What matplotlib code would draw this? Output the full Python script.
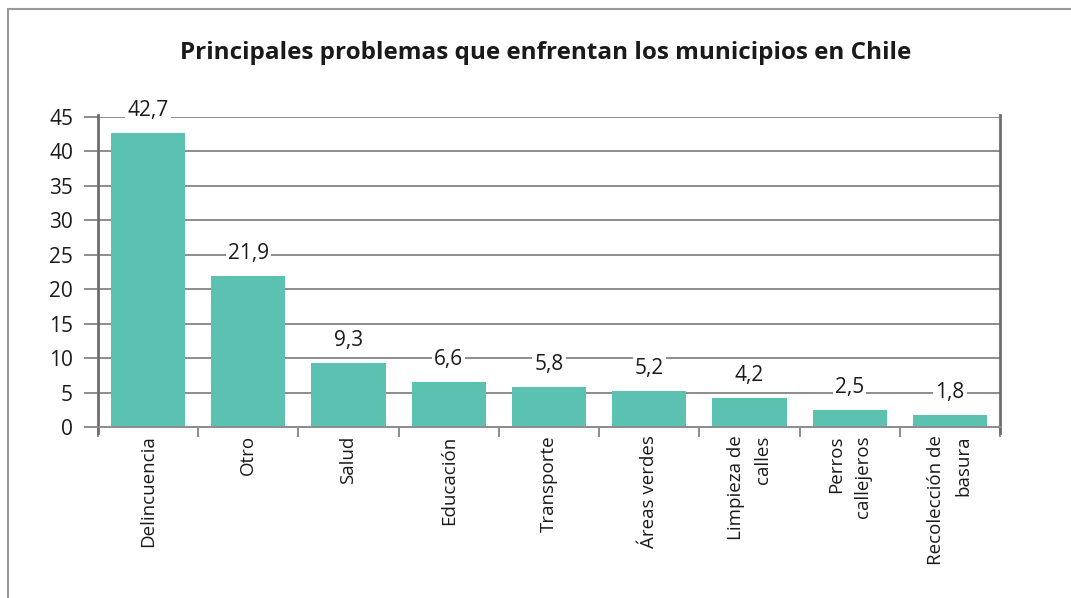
import matplotlib.pyplot as plt
from matplotlib.patches import Rectangle

categorias = ["Delincuencia", "Otro", "Salud", "Educación", "Transporte",
              "Áreas verdes", "Limpieza de\ncalles", "Perros\ncallejeros",
              "Recolección de\nbasura"]
valores = [42.7, 21.9, 9.3, 6.6, 5.8, 5.2, 4.2, 2.5, 1.8]
etiquetas = ["42,7", "21,9", "9,3", "6,6", "5,8", "5,2", "4,2", "2,5", "1,8"]
yticks = [0, 5, 10, 15, 20, 25, 30, 35, 40, 45]

plt.rcParams["font.family"] = ["Open Sans", "DejaVu Sans"]

fig = plt.figure(figsize=(10.71, 5.98), dpi=100)
ax = fig.add_axes([98 / 1071, 1 - 427 / 598, (1000 - 98) / 1071, (427 - 117) / 598])

# marco gris alrededor de la figura
fig.patches.append(Rectangle((8 / 1071, -0.1), 1.2, 1 - 9 / 598 + 0.1,
                             transform=fig.transFigure, fill=False,
                             edgecolor="#9a9a9a", linewidth=1.5))

x = list(range(len(categorias)))
ax.bar(x, valores, width=0.74, color="#5bc1b1", zorder=2)

ax.set_xlim(-0.5, len(categorias) - 0.5)
ax.set_ylim(0, 45)
ax.set_yticks(yticks)
ax.set_yticklabels([str(t) for t in yticks], fontsize=15, color="#1a1a1a")
ax.yaxis.grid(True, color="#8c8c8c", linewidth=1.4, zorder=0)
ax.set_axisbelow(True)

ax.set_xticks([i + 0.5 for i in x[:-1]] + [-0.5, len(categorias) - 0.5])
ax.set_xticklabels([])
ax.tick_params(axis="x", length=7, color="#8c8c8c", width=1.4)
ax.tick_params(axis="y", length=10, color="#8c8c8c", width=1.4, pad=8)

for i, c in enumerate(categorias):
    ax.text(i, -1.2, c, rotation=90, ha="center", va="top",
            multialignment="right", fontsize=13.5, color="#1a1a1a",
            linespacing=1.65)

for i, (v, t) in enumerate(zip(valores, etiquetas)):
    ax.annotate(t, (i, v), xytext=(0, 16), textcoords="offset points",
                ha="center", va="center", fontsize=15, color="#1a1a1a",
                bbox=dict(boxstyle="square,pad=0.1", fc="white", ec="none"),
                zorder=3)

ax.spines["top"].set_visible(False)
for s in ["left", "right"]:
    ax.spines[s].set_color("#6e6e72")
    ax.spines[s].set_linewidth(2)
    ax.spines[s].set_bounds(-0.9, 45.3)
ax.spines["bottom"].set_color("#8c8c8c")
ax.spines["bottom"].set_linewidth(1.4)

fig.text(546 / 1071, 1 - 53 / 598,
         "Principales problemas que enfrentan los municipios en Chile",
         ha="center", va="center", fontsize=17.5, fontweight="bold",
         color="#1a1a1a")

fig.savefig("out.png", dpi=100, facecolor="white")
